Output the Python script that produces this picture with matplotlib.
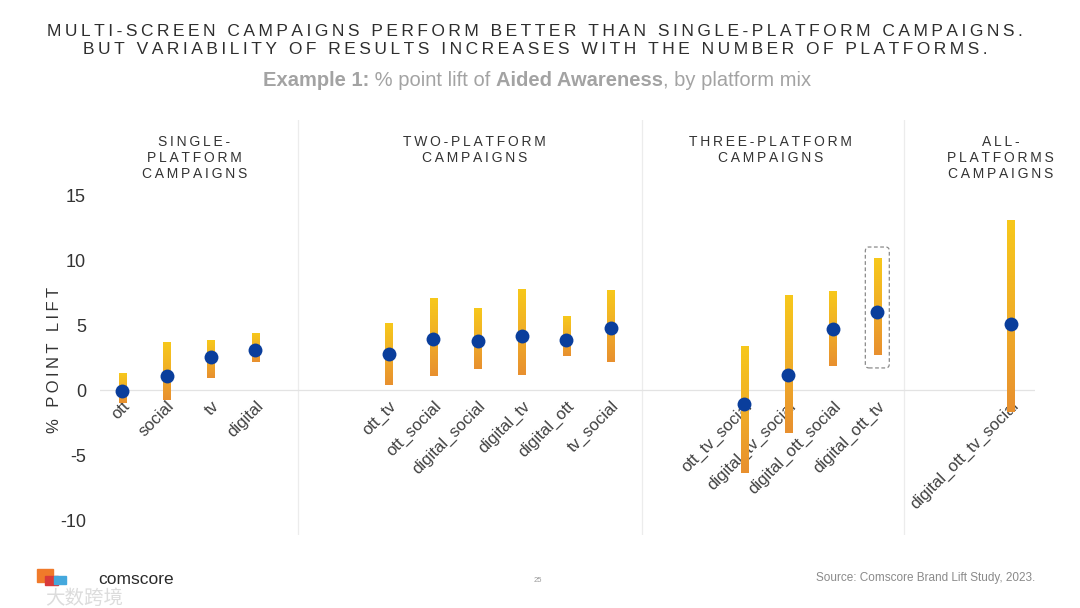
import numpy as np
import matplotlib.pyplot as plt
from matplotlib.colors import LinearSegmentedColormap
from matplotlib.patches import FancyBboxPatch, Rectangle

# platform mixes, grouped as on the slide
single_labels = ["ott", "social", "tv", "digital"]
two_labels = ["ott_tv", "ott_social", "digital_social", "digital_tv", "digital_ott", "tv_social"]
three_labels = ["ott_tv_social", "digital_tv_social", "digital_ott_social", "digital_ott_tv"]
all_labels = ["digital_ott_tv_social"]

# point lift (dot), upper and lower end of the range bar
single_mid = [-0.1, 1.1, 2.55, 3.05]
single_high = [1.3, 3.65, 3.8, 4.35]
single_low = [-1.0, -0.8, 0.95, 2.15]

two_mid = [2.75, 3.95, 3.8, 4.15, 3.85, 4.75]
two_high = [5.1, 7.05, 6.3, 7.75, 5.7, 7.65]
two_low = [0.35, 1.1, 1.65, 1.15, 2.65, 2.15]

three_mid = [-1.05, 1.15, 4.7, 6.0]
three_high = [3.35, 7.25, 7.55, 10.1]
three_low = [-6.4, -3.3, 1.85, 2.7]

all_mid = [5.1]
all_high = [13.0]
all_low = [-1.7]

group_titles = ["SINGLE-\nPLATFORM\nCAMPAIGNS", "TWO-PLATFORM\nCAMPAIGNS",
                "THREE-PLATFORM\nCAMPAIGNS", "ALL-\nPLATFORMS\nCAMPAIGNS"]
yticks = [-10, -5, 0, 5, 10, 15]

FAM = ["Liberation Sans", "DejaVu Sans"]
NARROW = ["Liberation Sans Narrow", "Liberation Sans", "DejaVu Sans"]
plt.rcParams["font.family"] = FAM


def spaced(s, sep="\u2009"):
    return "\n".join(sep.join(line) for line in s.split("\n"))


groups = [
    (single_labels, single_mid, single_high, single_low),
    (two_labels, two_mid, two_high, two_low),
    (three_labels, three_mid, three_high, three_low),
    (all_labels, all_mid, all_high, all_low),
]
gap = 3  # slot distance between last item of a group and first of the next

fig = plt.figure(figsize=(10.8, 6.08), dpi=100)
fig.patch.set_facecolor("white")
ax = fig.add_axes([100 / 1080, 1 - 535 / 608, 935 / 1080, 415 / 608])
ax.spines["bottom"].set_position(("data", 0))

cmap = LinearSegmentedColormap.from_list("bar", ["#E8902F", "#F0AE27", "#F7C81B"])
half_w = 0.08

positions, labels = [], []
start = 0
group_spans = []
for labs, mid, high, low in groups:
    xs = np.arange(start, start + len(labs))
    group_spans.append((xs[0], xs[-1]))
    for x, m, h, l in zip(xs, mid, high, low):
        grad = np.linspace(0, 1, 200).reshape(-1, 1)
        ax.imshow(grad, cmap=cmap, aspect="auto", origin="lower",
                  extent=(x - half_w, x + half_w, l, h), zorder=2, interpolation="bilinear")
    ax.scatter(xs, mid, s=100, color="#0A3E9C", zorder=3, linewidths=0)
    positions.extend(xs)
    labels.extend(labs)
    start = xs[-1] + gap

# highlight box around digital_ott_tv
hx = group_spans[2][1]
box = FancyBboxPatch((hx - 0.27, three_low[-1] - 1.0), 0.54,
                     three_high[-1] - three_low[-1] + 1.9,
                     boxstyle="round,pad=0,rounding_size=0.08", mutation_aspect=1 / 0.25,
                     fill=False, edgecolor="#8a8a8a", linestyle=(0, (3, 2)), linewidth=0.9, zorder=4)
ax.add_patch(box)

ax.set_xlim(-0.5, 20.55)
ax.set_ylim(-11.15, 20.77)

# divider lines and group headings
dividers = [group_spans[0][1] + 0.96, group_spans[1][1] + 0.7, group_spans[2][1] + 0.6]
for d in dividers:
    ax.axvline(d, color="#ececec", linewidth=0.9, zorder=1)
ax.axhline(0, color="#e3e3e3", linewidth=0.9, zorder=1)

head_centers = [1.62, 7.93, 14.6, 19.78]
for title, cx in zip(group_titles, head_centers):
    ax.text(cx, 19.6, spaced(title), ha="center", va="top", fontsize=10,
            color="#333333", linespacing=1.15, family=FAM)

ax.set_xticks(positions)
ax.set_xticklabels(labels, rotation=45, ha="right", va="top", rotation_mode="anchor",
                   fontsize=12, color="#404040")
ax.tick_params(axis="x", length=0, pad=6)
ax.set_yticks(yticks)
ax.set_yticklabels([str(v) for v in yticks], fontsize=13, color="#333333")
ax.tick_params(axis="y", length=0, pad=10)
for sp in ax.spines.values():
    sp.set_visible(False)
ax.set_facecolor("none")

ax.set_ylabel(spaced("% POINT LIFT"), fontsize=12, color="#333333")
ax.yaxis.set_label_coords(-38 / 935, (535 - 360) / 415)

# titles
fig.text(535 / 1080, 1 - 31 / 608, spaced("MULTI-SCREEN CAMPAIGNS PERFORM BETTER THAN SINGLE-PLATFORM CAMPAIGNS."),
         ha="center", va="center", fontsize=12.5, color="#2e2e2e")
fig.text(535 / 1080, 1 - 50 / 608, spaced("BUT VARIABILITY OF RESULTS INCREASES WITH THE NUMBER OF PLATFORMS."),
         ha="center", va="center", fontsize=12.5, color="#2e2e2e")

# subtitle with mixed weights
renderer = fig.canvas.get_renderer()
pieces = [("Example 1:", "bold"), (" % point lift of ", "normal"),
          ("Aided Awareness", "bold"), (", by platform mix", "normal")]
texts = []
for s, w in pieces:
    t = fig.text(0, 1 - 81 / 608, s, ha="left", va="center", fontsize=14.5,
                 color="#a3a3a3", fontweight=w, family=NARROW)
    texts.append(t)
widths = [t.get_window_extent(renderer).width for t in texts]
x0 = 537 - sum(widths) / 2
for t, w in zip(texts, widths):
    t.set_x(x0 / 1080)
    x0 += w

# footer
fig.patches.append(Rectangle((37 / 1080, 1 - 582 / 608), 16 / 1080, 13 / 608,
                             transform=fig.transFigure, color="#F07A2A", zorder=1))
fig.patches.append(Rectangle((45 / 1080, 1 - 585 / 608), 13 / 1080, 9 / 608,
                             transform=fig.transFigure, color="#D93A3A", zorder=1))
fig.patches.append(Rectangle((54 / 1080, 1 - 584 / 608), 12 / 1080, 8 / 608,
                             transform=fig.transFigure, color="#44A8DD", zorder=1))
fig.text(98 / 1080, 1 - 579 / 608, "comscore", ha="left", va="center", fontsize=12.5,
         color="#2a2a2a")
fig.text(45 / 1080, 1 - 598 / 608, "大数跨境", ha="left", va="center", fontsize=14,
         color="#dcdcdc", family=["Noto Sans CJK SC", "DejaVu Sans"])
fig.text(538 / 1080, 1 - 581 / 608, "25", ha="center", va="center", fontsize=5.5, color="#9a9a9a")
fig.text(1035 / 1080, 1 - 578 / 608, "Source: Comscore Brand Lift Study, 2023.", ha="right",
         va="center", fontsize=8.5, color="#8a8a8a", family=NARROW)

fig.savefig("out.png", dpi=100, facecolor="white")
